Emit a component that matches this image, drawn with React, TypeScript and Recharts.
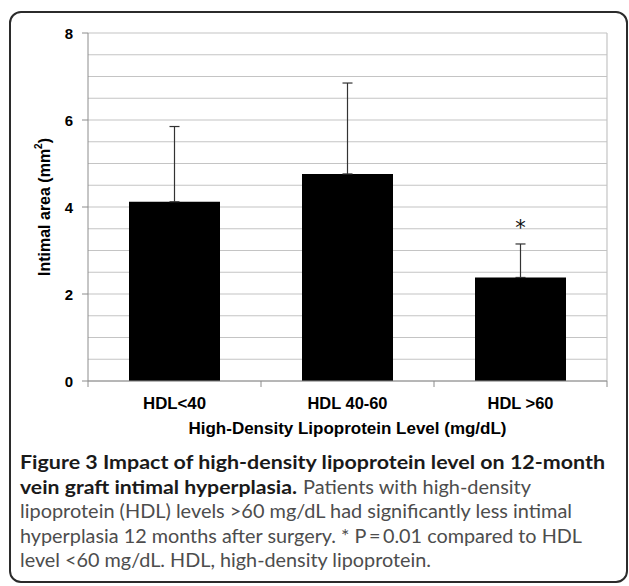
import React from "react";
import {
  BarChart,
  Bar,
  XAxis,
  YAxis,
  CartesianGrid,
  ErrorBar,
  ReferenceDot,
} from "recharts";

// values
const categories = ["HDL<40", "HDL 40-60", "HDL >60"];
const means = [4.12, 4.76, 2.38];
const errors = [1.73, 2.09, 0.77];
const sigMarks = ["", "", "*"];
const yTicks = [0, 0.5, 1, 1.5, 2, 2.5, 3, 3.5, 4, 4.5, 5, 5.5, 6, 6.5, 7, 7.5, 8];
const majorTicks = [0, 2, 4, 6, 8];
const tickWidths = [63, 80, 66];

// caption, one entry per printed line
const captionLines = [
  { bold: "Figure 3 Impact of high-density lipoprotein level on 12-month", boldW: 585, text: "", textX: 0, textW: 0 },
  { bold: "vein graft intimal hyperplasia.", boldW: 277, text: "Patients with high-density", textX: 303, textW: 228 },
  { bold: "", boldW: 0, text: "lipoprotein (HDL) levels >60 mg/dL had significantly less intimal", textX: 20, textW: 552 },
  { bold: "", boldW: 0, text: "hyperplasia 12 months after surgery. * P\u2009=\u20090.01 compared to HDL", textX: 20, textW: 562 },
  { bold: "", boldW: 0, text: "level <60 mg/dL. HDL, high-density lipoprotein.", textX: 20, textW: 411 },
];

const data = categories.map((name, i) => ({
  name,
  mean: means[i],
  err: [0, errors[i]],
}));

const W = 629;
const H = 450;
const MARGIN = { top: 33, right: 22, left: 28, bottom: 39 };
const PLOT_W = W - MARGIN.left - MARGIN.right - 60;
const BAND = PLOT_W / categories.length;
const FONT = "'Liberation Sans', Arial, sans-serif";
const CAP_FONT = "Lato, 'Open Sans', sans-serif";
const AXIS = "#8c8c8c";

const YTick = (props: any) => {
  const { x, y, payload } = props;
  if (!majorTicks.includes(payload.value)) return <g />;
  return (
    <g>
      <line x1={x - 6} x2={x} y1={y} y2={y} stroke={AXIS} />
      <text
        x={x - 15}
        y={y}
        textAnchor="end"
        dominantBaseline="central"
        fontFamily={FONT}
        fontWeight="bold"
        fontSize={15}
        fill="#000"
      >
        {payload.value}
      </text>
    </g>
  );
};

const XTick = (props: any) => {
  const { x, y, payload, index } = props;
  return (
    <g>
      <line x1={x - BAND / 2} x2={x - BAND / 2} y1={y} y2={y + 6} stroke={AXIS} />
      {index === categories.length - 1 && (
        <line x1={x + BAND / 2} x2={x + BAND / 2} y1={y} y2={y + 6} stroke={AXIS} />
      )}
      <text
        x={x}
        y={y + 22}
        textAnchor="middle"
        dominantBaseline="central"
        fontFamily={FONT}
        fontWeight="bold"
        fontSize={16}
        textLength={tickWidths[index]}
        lengthAdjust="spacingAndGlyphs"
        fill="#000"
      >
        {payload.value}
      </text>
    </g>
  );
};

const XTitle = (props: any) => {
  const { x, y, width } = props.viewBox;
  return (
    <text
      x={x + width / 2}
      y={y + 47}
      textAnchor="middle"
      dominantBaseline="central"
      fontFamily={FONT}
      fontWeight="bold"
      fontSize={16}
      textLength={318}
      lengthAdjust="spacingAndGlyphs"
      fill="#000"
    >
      High-Density Lipoprotein Level (mg/dL)
    </text>
  );
};

const YTitle = (props: any) => {
  const { y, height } = props.viewBox;
  const cx = 44;
  const cy = y + height / 2;
  return (
    <text
      x={cx}
      y={cy}
      transform={`rotate(-90 ${cx} ${cy})`}
      textAnchor="middle"
      dominantBaseline="central"
      fontFamily={FONT}
      fontWeight="bold"
      fontSize={16}
      fill="#000"
    >
      <tspan>Intimal area (mm</tspan>
      <tspan dy={-6} fontSize={10}>2</tspan>
      <tspan dy={6}>)</tspan>
    </text>
  );
};

const Star = (props: any) => (
  <text
    x={props.cx}
    y={props.cy + 13}
    textAnchor="middle"
    fontFamily="'DejaVu Sans', sans-serif"
    fontSize={21}
    fill="#111"
  >
    {sigMarks[2]}
  </text>
);

export default function App() {
  return (
    <div
      style={{
        position: "absolute",
        left: 0,
        top: 0,
        width: W,
        height: 586,
        background: "#fff",
        overflow: "hidden",
      }}
    >
      <div
        style={{
          position: "absolute",
          left: 9,
          top: 11,
          width: 619,
          height: 572,
          border: "2px solid #2b2b2b",
          borderRadius: 12,
          boxSizing: "border-box",
        }}
      />
      <div style={{ position: "absolute", left: 0, top: 0 }}>
        <BarChart width={W} height={H} data={data} margin={MARGIN}>
          <CartesianGrid
            stroke="#c4c4c4"
            strokeWidth={1.2}
            vertical={true}
            verticalCoordinatesGenerator={({ offset }: any) => [offset.left + offset.width]}
          />
          <XAxis
            dataKey="name"
            height={30}
            stroke={AXIS}
            tickLine={false}
            tickSize={0}
            tickMargin={0}
            tick={<XTick />}
            interval={0}
            label={{ content: <XTitle /> } as any}
          />
          <YAxis
            width={60}
            domain={[0, 8]}
            ticks={yTicks}
            interval={0}
            stroke={AXIS}
            tickLine={false}
            tickSize={0}
            tickMargin={0}
            tick={<YTick />}
            label={{ content: <YTitle /> } as any}
          />
          <Bar dataKey="mean" fill="#000" barSize={91} isAnimationActive={false}>
            <ErrorBar dataKey="err" direction="y" width={5} stroke="#333" strokeWidth={1.2} />
          </Bar>
          <ReferenceDot
            x={categories[2]}
            y={means[2] + errors[2] + 0.5}
            r={0}
            shape={<Star />}
          />
        </BarChart>
      </div>
      <svg
        width={W}
        height={140}
        style={{ position: "absolute", left: 0, top: 446 }}
      >
        {captionLines.map((ln, i) => {
          const cy = 16 + i * 24.6;
          return (
            <g key={i}>
              {ln.bold && (
                <text
                  x={20}
                  y={cy}
                  dominantBaseline="central"
                  fontFamily={CAP_FONT}
                  fontWeight="bold"
                  fontSize={18.5}
                  textLength={ln.boldW}
                  lengthAdjust="spacingAndGlyphs"
                  fill="#1a1a1a"
                >
                  {ln.bold}
                </text>
              )}
              {ln.text && (
                <text
                  x={ln.textX}
                  y={cy}
                  dominantBaseline="central"
                  fontFamily={CAP_FONT}
                  fontSize={18.5}
                  textLength={ln.textW}
                  lengthAdjust="spacingAndGlyphs"
                  fill="#4d4d4d"
                >
                  {ln.text}
                </text>
              )}
            </g>
          );
        })}
      </svg>
    </div>
  );
}
